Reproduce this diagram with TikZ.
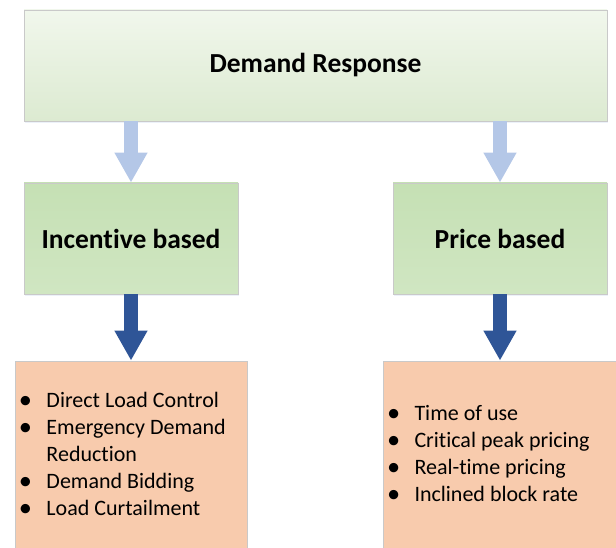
\documentclass[tikz,border=0pt]{standalone}
\usepackage{fontspec}
\setmainfont[Ligatures=NoCommon]{Carlito}
\usetikzlibrary{arrows.meta,shadows}

\definecolor{topgreen}{HTML}{F1F7EC}
\definecolor{botgreen}{HTML}{DCEAD1}
\definecolor{midgreen}{HTML}{C5E0B4}
\definecolor{midgreenlo}{HTML}{D0E6C2}
\definecolor{peach}{HTML}{F8CBAD}
\definecolor{edgegrey}{HTML}{C9C9C9}
\definecolor{paleblue}{HTML}{B4C7E7}
\definecolor{deepblue}{HTML}{2F5597}

\tikzset{
  box/.style={draw=edgegrey, line width=0.8pt, inner sep=0pt,
    drop shadow={shadow xshift=1pt, shadow yshift=-2pt, opacity=0.25, fill=paleblue}},
  headbox/.style={box, top color=topgreen, bottom color=botgreen},
  catbox/.style={box, top color=midgreen, bottom color=midgreenlo,
    minimum width=214, minimum height=111},
  listbox/.style={box, fill=peach, minimum height=190, inner xsep=4pt, align=left},
  headtxt/.style={font=\fontsize{27.5}{33}\selectfont\bfseries},
  listtxt/.style={font=\fontsize{22}{27}\selectfont},
  lightarrow/.style={paleblue, line width=14pt, -{Triangle[width=31pt,length=30pt]}},
  darkarrow/.style={deepblue, line width=14pt, -{Triangle[width=31pt,length=30pt]}}
}

\newcommand{\bl}{\raisebox{-0.6pt}{\scalebox{1.2}{\textbullet}}}

\begin{document}
\begin{tikzpicture}[x=1pt, y=-1pt]
			%%%%% START %%%%%
			
			\useasboundingbox (0, 0) rectangle (616, 548);
			
			\node[headbox, headtxt, minimum width=583, minimum height=111] (dr) at (315.5, 65.5) {Demand Response};
			
			\node[catbox, headtxt] (inc) at (131, 238.5) {Incentive based};
			\node[catbox, headtxt] (prc) at (500, 238.5) {Price based};
			
			\node[listbox, listtxt, text width=224] (ilist) at (131, 456) {\spaceskip=0pt\relax
				\begin{tabular}{@{}p{27.5pt}@{}l@{}}
					\bl & Direct Load Control\\
					\bl & Emergency Demand\\
					    & Reduction\\
					\bl & Demand Bidding\\
					\bl & Load Curtailment
				\end{tabular}};
			\node[listbox, listtxt, text width=226] (plist) at (500, 456) {\spaceskip=0pt\relax
				\begin{tabular}{@{}p{27.5pt}@{}l@{}}
					\bl & Time of use\\
					\bl & Critical peak pricing\\
					\bl & Real-time pricing\\
					\bl & Inclined block rate
				\end{tabular}};
			
			\draw[lightarrow] (dr.south -| inc.north) -- (inc.north);
			\draw[lightarrow] (dr.south -| prc.north) -- (prc.north);
			
			\draw[darkarrow] (inc.south) -- (ilist.north);
			\draw[darkarrow] (prc.south) -- (plist.north);
			
			%%%%% END %%%%%
\end{tikzpicture}
\end{document}
